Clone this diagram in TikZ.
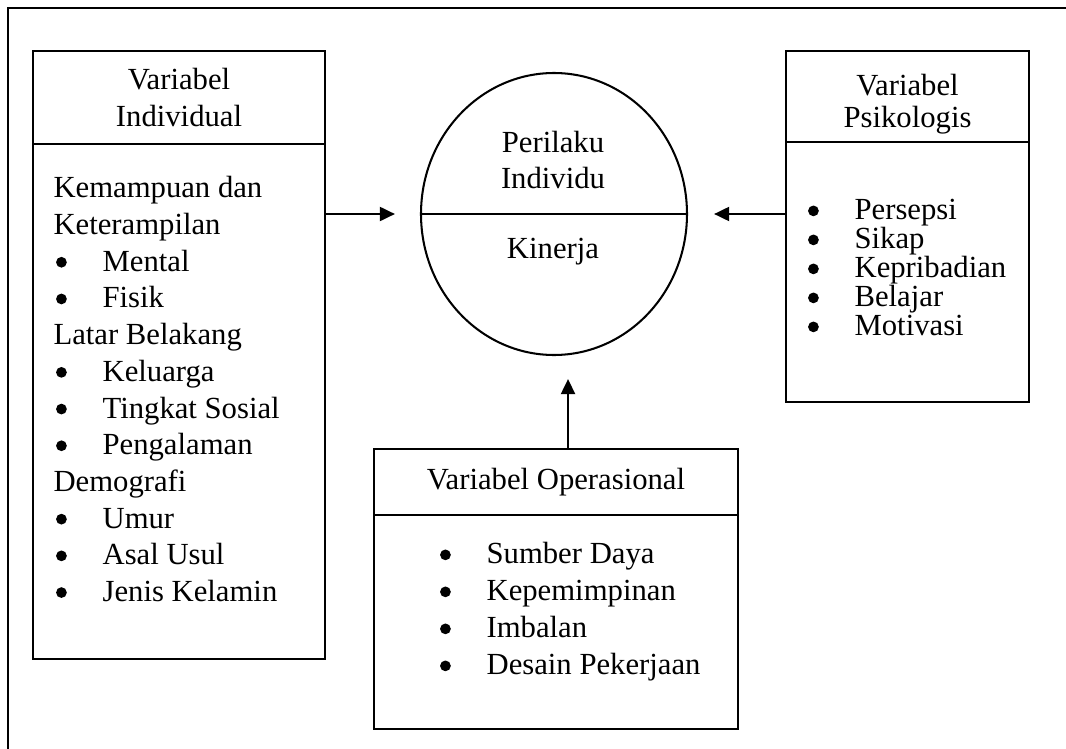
\documentclass[tikz,border=0pt]{standalone}
\usepackage{fontspec}
\setmainfont{Liberation Serif}
\usetikzlibrary{positioning, shapes.geometric, arrows.meta}
\newlength{\pxu}
\setlength{\pxu}{0.391pt}
\newcommand{\vitem}[1]{\makebox[19.2pt][l]{\hspace*{1pt}\tikz[baseline=-3.5pt]\fill (2.1pt,0) circle (2.1pt);}#1}
\tikzset{block/.style={draw, line width=0.8pt, inner sep=0pt, anchor=north west},
head/.style={block, align=center},
list/.style={inner sep=0pt, anchor=north west, align=left},
line/.style={-{Triangle[length=5.9pt, width=5.5pt]}, line width=0.8pt}
}

\begin{document}
\begin{tikzpicture}[x=0.391pt, y=-0.391pt, font=\fontsize{12pt}{14.4pt}\selectfont]
\useasboundingbox (0,0) rectangle (1066,749);
\draw[line width=0.8pt] (1080,8) -- (8,8) -- (8,760);

% variabel individual
\node[head, minimum width=292\pxu, minimum height=93\pxu] (Individual Head) at (32,50) {Variabel\\Individual};
\node[block, minimum width=292\pxu, minimum height=515\pxu] (Individual Body) at (32,143) {};
\node[list, font=\fontsize{12pt}{14.35pt}\selectfont] (Individual List) at (53,176) {Kemampuan dan\\Keterampilan\\\vitem{Mental}\\\vitem{Fisik}\\Latar Belakang\\\vitem{Keluarga}\\\vitem{Tingkat Sosial}\\\vitem{Pengalaman}\\Demografi\\\vitem{Umur}\\\vitem{Asal Usul}\\\vitem{Jenis Kelamin}};

% variabel psikologis
\node[head, minimum width=243\pxu, minimum height=91\pxu, font=\fontsize{12pt}{12.5pt}\selectfont] (Psikologis Head) at (785,50) {\rule{0pt}{14pt}Variabel\\Psikologis};
\node[block, minimum width=243\pxu, minimum height=260\pxu] (Psikologis Body) at (785,141) {};
\node[list, font=\fontsize{12pt}{11.34pt}\selectfont] (Psikologis List) at (805,199) {\vitem{Persepsi}\\\vitem{Sikap}\\\vitem{Kepribadian}\\\vitem{Belajar}\\\vitem{Motivasi}};

% variabel operasional
\node[head, minimum width=364\pxu, minimum height=66\pxu] (Operasional Head) at (373,448) {Variabel Operasional};
\node[block, minimum width=364\pxu, minimum height=214\pxu] (Operasional Body) at (373,514) {};
\node[list, font=\fontsize{12pt}{14.47pt}\selectfont] (Operasional List) at (437,542) {\vitem{Sumber Daya}\\\vitem{Kepemimpinan}\\\vitem{Imbalan}\\\vitem{Desain Pekerjaan}};

% perilaku individu
\node[draw, ellipse, line width=0.8pt, inner sep=0pt, minimum width=266\pxu, minimum height=282\pxu] (Circle) at (554,214) {};
\draw[line width=0.8pt] (Circle.west) -- (Circle.east);
\node[align=center, font=\fontsize{12pt}{14.1pt}\selectfont] (Perilaku) at (553,160) {Perilaku\\Individu};
\node (Kinerja) at (553,252) {Kinerja};

\coordinate (Up) at ([xshift=4.7pt]Operasional Head.north);
\draw[line, shorten >=9.8pt] (Individual Body.east |- Circle.center) -- (Circle.west);
\draw[line, shorten >=10.2pt] (Psikologis Body.west |- Circle.center) -- (Circle.east);
\draw[line, shorten >=9pt] (Up) -- (Up |- Circle.south);
\end{tikzpicture}
\end{document}
